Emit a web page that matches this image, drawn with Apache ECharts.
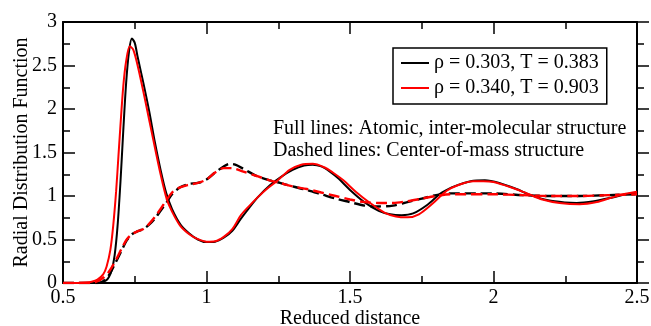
<!DOCTYPE html>
<html>
<head>
<meta charset="utf-8">
<script src="https://cdn.jsdelivr.net/npm/echarts@6/dist/echarts.min.js"></script>
<style>
html,body{margin:0;padding:0;background:#fff;}
#chart{width:651px;height:326px;}
</style>
</head>
<body>
<div id="chart"></div>
<script>
// ---- data ----
const seriesNames = ["ρ = 0.303, T = 0.383", "ρ = 0.340, T = 0.903"];
const xTicks = [0.5, 1, 1.5, 2, 2.5];
const yTicks = [0, 0.5, 1, 1.5, 2, 2.5, 3];
const annotations = ["Full lines: Atomic, inter-molecular structure", "Dashed lines: Center-of-mass structure"];

// black solid (atomic, rho=0.303)
const blackSolidX = [0.5,0.6,0.63,0.65,0.66,0.67,0.68,0.69,0.70,0.71,0.72,0.73,0.74,0.75,0.76,0.78,0.80,0.82,0.84,0.86,0.88,0.91,0.94,0.97,1.0,1.03,1.06,1.09,1.12,1.15,1.18,1.22,1.26,1.30,1.34,1.37,1.40,1.43,1.46,1.50,1.55,1.60,1.64,1.68,1.72,1.77,1.82,1.87,1.92,1.97,2.02,2.08,2.13,2.19,2.25,2.29,2.35,2.41,2.46,2.5];
const blackSolidY = [0,0,0.005,0.03,0.07,0.15,0.32,0.65,1.15,1.75,2.3,2.66,2.81,2.76,2.6,2.3,1.98,1.62,1.3,1.03,0.85,0.67,0.57,0.5,0.47,0.475,0.52,0.6,0.74,0.87,0.99,1.12,1.22,1.3,1.35,1.36,1.34,1.28,1.2,1.07,0.93,0.83,0.79,0.78,0.8,0.9,1.04,1.12,1.17,1.18,1.15,1.08,1.01,0.95,0.925,0.92,0.94,0.98,1.02,1.04];

// red solid (atomic, rho=0.340)
const redSolidX = [0.5,0.55,0.58,0.6,0.62,0.64,0.652,0.665,0.675,0.685,0.693,0.70,0.71,0.72,0.733,0.745,0.76,0.78,0.80,0.815,0.84,0.861,0.88,0.908,0.94,0.966,1.0,1.03,1.06,1.09,1.12,1.15,1.18,1.21,1.245,1.29,1.33,1.37,1.41,1.44,1.477,1.52,1.57,1.62,1.66,1.70,1.74,1.79,1.837,1.88,1.93,1.965,2.0,2.06,2.116,2.17,2.23,2.30,2.36,2.41,2.452,2.5];
const redSolidY = [0,0,0.005,0.015,0.04,0.1,0.19,0.38,0.66,1.05,1.45,1.8,2.26,2.55,2.72,2.68,2.5,2.2,1.88,1.64,1.25,0.97,0.82,0.66,0.56,0.51,0.475,0.48,0.53,0.62,0.78,0.89,0.99,1.08,1.17,1.3,1.36,1.37,1.33,1.27,1.18,1.05,0.92,0.81,0.765,0.755,0.79,0.92,1.06,1.13,1.17,1.17,1.16,1.1,1.03,0.96,0.92,0.905,0.93,0.98,1.02,1.05];

// black dashed (center of mass, rho=0.303)
const blackDashX = [0.5,0.62,0.64,0.66,0.687,0.705,0.722,0.74,0.757,0.78,0.80,0.82,0.84,0.86,0.88,0.908,0.94,0.97,1.0,1.03,1.06,1.08,1.10,1.13,1.175,1.22,1.256,1.30,1.349,1.40,1.45,1.50,1.55,1.60,1.65,1.70,1.75,1.80,1.85,1.90,1.95,2.0,2.1,2.2,2.3,2.4,2.5];
const blackDashY = [0,0,0.02,0.09,0.26,0.38,0.49,0.56,0.59,0.62,0.67,0.74,0.83,0.92,1.02,1.1,1.14,1.15,1.19,1.27,1.34,1.37,1.36,1.31,1.23,1.18,1.15,1.11,1.07,1.02,0.97,0.93,0.89,0.88,0.89,0.93,0.97,1.01,1.03,1.03,1.03,1.03,1.01,1.0,1.0,1.01,1.02];

// red dashed (center of mass, rho=0.340)
const redDashX = [0.5,0.6,0.62,0.64,0.66,0.687,0.705,0.722,0.74,0.757,0.78,0.80,0.82,0.84,0.86,0.88,0.908,0.94,0.97,1.0,1.03,1.06,1.09,1.12,1.175,1.22,1.256,1.30,1.35,1.40,1.45,1.50,1.55,1.60,1.65,1.70,1.75,1.80,1.85,1.90,2.0,2.1,2.2,2.3,2.4,2.5];
const redDashY = [0,0,0.02,0.06,0.13,0.28,0.4,0.5,0.56,0.59,0.62,0.68,0.76,0.85,0.95,1.04,1.1,1.13,1.15,1.19,1.27,1.32,1.32,1.29,1.23,1.18,1.15,1.11,1.08,1.04,1.0,0.96,0.93,0.92,0.92,0.94,0.97,1.0,1.02,1.02,1.02,1.01,1.0,1.0,1.01,1.02];

const zip = (xs, ys) => xs.map((x, i) => [x, ys[i]]);

const FONT = "'Liberation Serif', 'Times New Roman', serif";
const chart = echarts.init(document.getElementById('chart'), null, {renderer: 'canvas'});

function makeAxis(extra, inside) {
  const a = {
    type: 'value',
    axisLine: {show: true, onZero: false, lineStyle: {color: '#000', width: 2}},
    axisTick: {show: true, inside: inside, length: 12, lineStyle: {color: '#000', width: 1.5}},
    minorTick: {show: true, splitNumber: 2, length: 7, lineStyle: {color: '#000', width: 1.5}},
    splitLine: {show: false},
    minorSplitLine: {show: false}
  };
  return Object.assign(a, extra);
}

const lineSeries = (name, data, color, dashed, z) => ({
  type: 'line', name, data,
  showSymbol: false, symbol: 'none',
  smooth: 0.3,
  lineStyle: {color, width: dashed ? 2.4 : 2, type: dashed ? [11, 5] : 'solid'},
  itemStyle: {color},
  z, animation: false
});

chart.setOption({
  animation: false,
  backgroundColor: '#fff',
  grid: {left: 63, right: 14, top: 22, bottom: 43, containLabel: false, outerBoundsMode: 'none'},
  xAxis: [
    makeAxis({
      min: xTicks[0], max: xTicks[xTicks.length - 1], interval: 0.5, position: 'bottom',
      name: 'Reduced distance', nameLocation: 'middle', nameGap: 26, nameMoveOverlap: false,
      nameTextStyle: {fontFamily: FONT, fontSize: 20, color: '#000'},
      axisLabel: {show: true, margin: 5, fontFamily: FONT, fontSize: 20, color: '#000',
        formatter: v => String(v)}
    }, true),
    makeAxis({
      min: xTicks[0], max: xTicks[xTicks.length - 1], interval: 0.5, position: 'top',
      axisLabel: {show: false}
    }, true)
  ],
  yAxis: [
    makeAxis({
      min: yTicks[0], max: yTicks[yTicks.length - 1], interval: 0.5, position: 'left',
      name: 'Radial Distribution Function', nameLocation: 'middle', nameGap: 31, nameMoveOverlap: false,
      nameTextStyle: {fontFamily: FONT, fontSize: 20, color: '#000'},
      axisLabel: {show: true, margin: 6, fontFamily: FONT, fontSize: 20, color: '#000',
        formatter: v => String(v)}
    }, true),
    makeAxis({
      min: yTicks[0], max: yTicks[yTicks.length - 1], interval: 0.5, position: 'right',
      axisLabel: {show: false}
    }, false)
  ],
  legend: {
    data: seriesNames.map(n => ({name: n, icon: 'rect'})),
    orient: 'vertical',
    left: 393, top: 48,
    padding: [5, 8, 6, 8],
    itemGap: 5,
    itemWidth: 28, itemHeight: 2,
    itemTextGap: 15,
    borderColor: '#000', borderWidth: 1.5,
    backgroundColor: '#fff',
    textStyle: {fontFamily: FONT, fontSize: 20, color: '#000', lineHeight: 20},
    selectedMode: false
  },
  graphic: annotations.map((t, i) => ({
    type: 'text', left: 273, top: 119 + i * 22, z: 100,
    style: {text: t, fontFamily: FONT, fontSize: 20, fill: '#000'}
  })),
  series: [
    lineSeries(seriesNames[0], zip(blackSolidX, blackSolidY), '#000', false, 2),
    lineSeries('com_black', zip(blackDashX, blackDashY), '#000', true, 3),
    lineSeries(seriesNames[1], zip(redSolidX, redSolidY), '#ff0000', false, 4),
    lineSeries('com_red', zip(redDashX, redDashY), '#ff0000', true, 5)
  ]
});
</script>
</body>
</html>
